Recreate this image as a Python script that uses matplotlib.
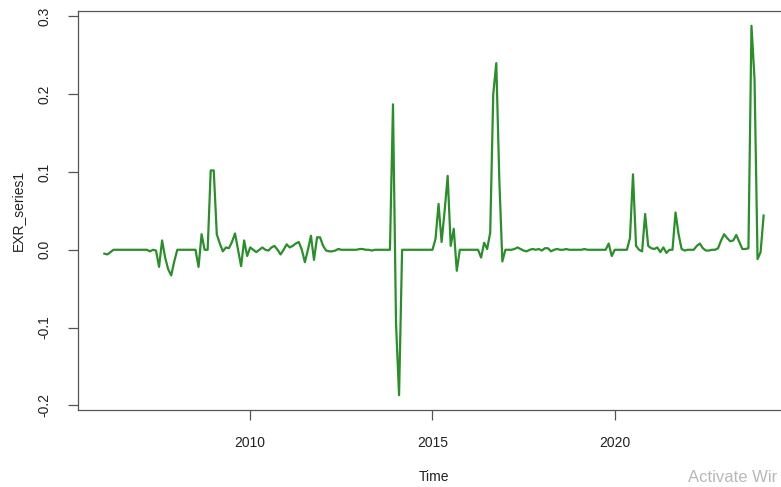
import numpy as np
from matplotlib import pyplot as plt

plt.rcParams['font.family'] = ['Liberation Sans', 'DejaVu Sans']

# monthly series, Jan 2006 .. Feb 2024
start_year = 2006.0
vals_2006 = [-0.005, -0.006, -0.003, 0.0, 0.0, 0.0, 0.0, 0.0, 0.0, 0.0, 0.0, 0.0]
vals_2007 = [0.0, 0.0, 0.0, -0.002, 0.0, -0.001, -0.022, 0.012, -0.01, -0.025, -0.033, -0.015]
vals_2008 = [0.0, 0.0, 0.0, 0.0, 0.0, 0.0, 0.0, -0.022, 0.02, 0.0, 0.0, 0.102]
vals_2009 = [0.102, 0.02, 0.008, -0.002, 0.003, 0.002, 0.01, 0.021, 0.0, -0.021, 0.012, -0.008]
vals_2010 = [0.003, 0.0, -0.003, 0.0, 0.003, 0.0, -0.001, 0.003, 0.005, 0.0, -0.006, 0.0]
vals_2011 = [0.007, 0.003, 0.005, 0.008, 0.01, 0.0, -0.016, 0.0, 0.018, -0.013, 0.016, 0.016]
vals_2012 = [0.005, -0.001, -0.002, -0.002, -0.001, 0.001, 0.0, 0.0, 0.0, 0.0, 0.0, 0.0]
vals_2013 = [0.001, 0.001, 0.0, 0.0, -0.001, 0.0, 0.0, 0.0, 0.0, 0.0, 0.0, 0.187]
vals_2014 = [-0.095, -0.187, 0.0, 0.0, 0.0, 0.0, 0.0, 0.0, 0.0, 0.0, 0.0, 0.0]
vals_2015 = [0.0, 0.014, 0.059, 0.01, 0.05, 0.095, 0.005, 0.027, -0.027, 0.0, 0.0, 0.0]
vals_2016 = [0.0, 0.0, 0.0, 0.0, -0.01, 0.009, 0.001, 0.022, 0.2, 0.24, 0.09, -0.015]
vals_2017 = [0.0, 0.0, 0.0, 0.001, 0.003, 0.001, -0.001, -0.002, 0.0, 0.001, 0.0, 0.001]
vals_2018 = [-0.001, 0.002, 0.002, -0.002, 0.0, 0.001, 0.0, 0.0, 0.001, 0.0, 0.0, 0.0]
vals_2019 = [0.0, 0.0, 0.001, 0.0, 0.0, 0.0, 0.0, 0.0, 0.0, 0.0, 0.008, -0.008]
vals_2020 = [0.0, 0.0, 0.0, 0.0, 0.0, 0.015, 0.097, 0.005, 0.0, -0.002, 0.046, 0.005]
vals_2021 = [0.002, 0.001, 0.003, -0.003, 0.003, -0.004, 0.0, 0.0, 0.048, 0.02, 0.001, -0.001]
vals_2022 = [0.0, 0.0, 0.0, 0.005, 0.008, 0.002, -0.001, -0.001, 0.0, 0.0, 0.002, 0.012]
vals_2023 = [0.02, 0.015, 0.011, 0.012, 0.019, 0.01, 0.001, 0.001, 0.002, 0.288, 0.22, -0.012]
vals_2024 = [-0.003, 0.044]

y = np.array(vals_2006 + vals_2007 + vals_2008 + vals_2009 + vals_2010 + vals_2011
             + vals_2012 + vals_2013 + vals_2014 + vals_2015 + vals_2016 + vals_2017
             + vals_2018 + vals_2019 + vals_2020 + vals_2021 + vals_2022 + vals_2023
             + vals_2024)
t = start_year + np.arange(len(y)) / 12.0

x_ticks = [2010, 2015, 2020]
y_ticks = [-0.2, -0.1, 0.0, 0.1, 0.2, 0.3]

fig = plt.figure(figsize=(7.81, 4.87), dpi=100)
# R pads the data range by 4%; the right side runs off the screenshot
ax = fig.add_axes([78 / 781, 77 / 487, 712 / 781, 399 / 487])
ax.plot(t, y, color='#2a8f2a', lw=1.6)

xr = t.max() - t.min()
yr = y.max() - y.min()
ax.set_xlim(t.min() - 0.04 * xr, t.max() + 0.04 * xr)
ax.set_ylim(y.min() - 0.04 * yr, y.max() + 0.04 * yr)

ax.set_xticks(x_ticks)
ax.set_xticklabels([str(v) for v in x_ticks])
ax.set_yticks(y_ticks)
ax.set_yticklabels(['%.1f' % v for v in y_ticks], rotation=90, va='center')

for s in ax.spines.values():
    s.set_color('#555555')
    s.set_linewidth(0.9)
ax.tick_params(direction='out', length=7, width=0.9, color='#555555',
               labelsize=10, labelcolor='#222222', pad=12)

ax.set_xlabel('Time', fontsize=10, color='#222222', labelpad=14)
ax.set_ylabel('EXR_series1', fontsize=10, color='#222222', labelpad=9)

# screenshot watermark, cut off at the right in the original
fig.text(688 / 781, 1 - 478 / 487, 'Activate Wir', fontsize=12,
         color='#b8b8b8', va='center', ha='left')

fig.savefig('out.png', dpi=100)
